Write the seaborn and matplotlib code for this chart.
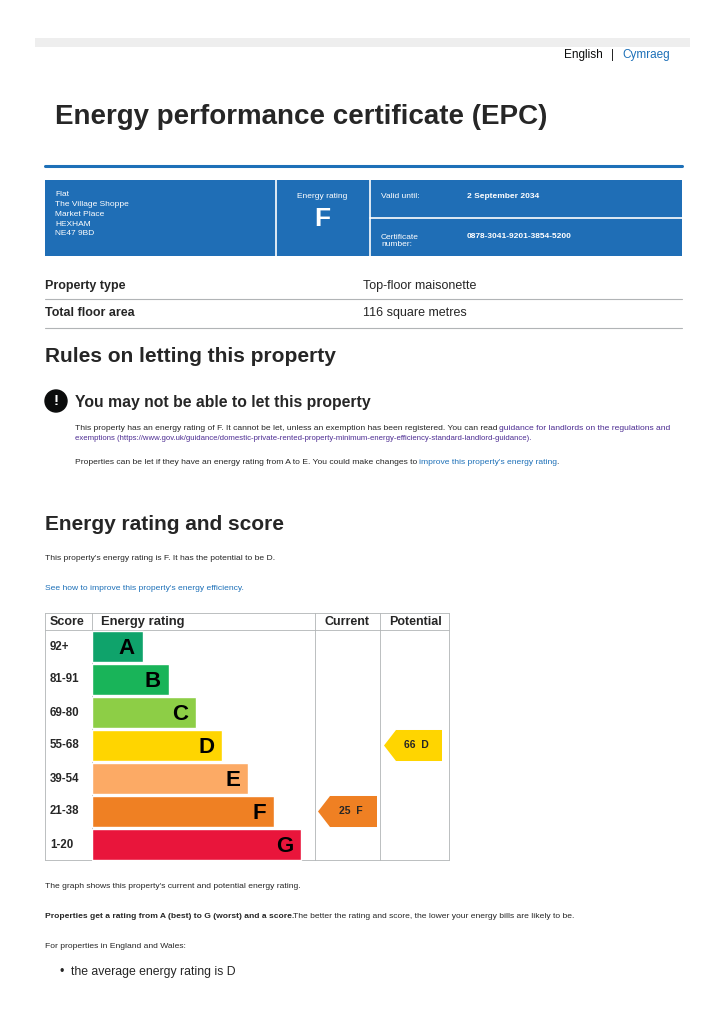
import matplotlib
matplotlib.use("Agg")
import matplotlib.pyplot as plt
import seaborn as sns
import pandas as pd
from matplotlib.patches import Rectangle, Polygon, Circle

sns.set_theme(style="white")
plt.rcParams['font.family'] = ['Liberation Sans', 'DejaVu Sans']

bands = ["A", "B", "C", "D", "E", "F", "G"]
score_ranges = ["92+", "81-91", "69-80", "55-68", "39-54", "21-38", "1-20"]
bar_lengths = [51, 77, 104, 130, 156, 182, 209]
band_colors = ["#0fa36b", "#19b459", "#8dce46", "#ffd500", "#fcaa65", "#ef8023", "#e9153b"]
current_score, current_band = 25, "F"
potential_score, potential_band = 66, "D"

fig = plt.figure(figsize=(7.24, 10.24), dpi=100)
bg = fig.add_axes([0, 0, 1, 1])
bg.set_xlim(0, 724); bg.set_ylim(1024, 0); bg.axis("off")

BLUE = "#1d70b8"
def T(x, y, s, size=6, **kw):
    kw.setdefault("va", "center")
    bg.text(x, y, s, fontsize=size, **kw)

bg.add_patch(Rectangle((35, 38), 655, 9, color="#eeeeee", lw=0))
T(603, 55, "English", 8.5, ha="right", color="#0b0c0c")
T(612, 55, "|", 8.5, ha="center")
T(622, 55, "Cymraeg", 8.5, color=BLUE)
T(55, 117, "Energy performance certificate (EPC)", 20, weight="bold")
bg.plot([45, 682], [166, 166], color=BLUE, lw=2.2)

bg.add_patch(Rectangle((45, 180), 637, 76, color="#1f6eb6", lw=0))
bg.plot([276, 276], [180, 256], color="white", lw=1.2)
bg.plot([370, 370], [180, 256], color="white", lw=1.2)
bg.plot([370, 682], [218, 218], color="white", lw=1.2)
for i, s in enumerate(["Flat", "The Village Shoppe", "Market Place", "HEXHAM", "NE47 9BD"]):
    T(55, 195 + i * 9.7, s, 6, color="white")
T(322, 196, "Energy rating", 6, ha="center", color="white")
T(322, 219, "F", 19, ha="center", color="white", weight="bold")
T(381, 197, "Valid until:", 6, color="white")
T(467, 197, "2 September 2034", 6, color="white", weight="bold")
T(381, 241, "Certificate\nnumber:", 6, color="white", linespacing=1.1)
T(467, 236, "0878-3041-9201-3854-5200", 6, color="white", weight="bold")

T(45, 286, "Property type", 9, weight="bold")
T(363, 286, "Top-floor maisonette", 9)
bg.plot([45, 682], [299, 299], color="#b1b4b6", lw=0.8)
T(45, 313, "Total floor area", 9, weight="bold")
T(363, 313, "116 square metres", 9)
bg.plot([45, 682], [328, 328], color="#b1b4b6", lw=0.8)

T(45, 356, "Rules on letting this property", 15, weight="bold")
bg.add_patch(Circle((56, 401), 11, color="#0b0c0c"))
T(56, 401, "!", 11, ha="center", color="white", weight="bold")
T(75, 403, "You may not be able to let this property", 11.3, weight="bold")
T(75, 429, "This property has an energy rating of F. It cannot be let, unless an exemption has been registered. You can read", 6.1)
T(499, 429, "guidance for landlords on the regulations and", 6.1, color="#4c2c92")
T(75, 438, "exemptions (https://www.gov.uk/guidance/domestic-private-rented-property-minimum-energy-efficiency-standard-landlord-guidance).", 5.6, color="#4c2c92")
T(75, 462, "Properties can be let if they have an energy rating from A to E. You could make changes to", 6.1)
T(419, 462, "improve this property's energy rating", 6.1, color=BLUE)
T(556, 462, ".", 6.1)

T(45, 524, "Energy rating and score", 15, weight="bold")
T(45, 559, "This property's energy rating is F. It has the potential to be D.", 6.1)
T(45, 588, "See how to improve this property's energy efficiency.", 6.1, color=BLUE)

GR = "#b1b4b6"
for x in [45, 92, 315, 380, 449]:
    bg.plot([x, x], [613, 860], color=GR, lw=0.6)
for y in [613, 630, 860]:
    bg.plot([45, 449], [y, y], color=GR, lw=0.6)
T(50, 622, "Score", 9, weight="bold")
T(101, 622, "Energy rating", 9.4, weight="bold")
T(347, 622, "Current", 9, weight="bold", ha="center")
T(416, 622, "Potential", 9, weight="bold", ha="center")
for i, s in enumerate(score_ranges):
    T(50, 630 + 33 * (i + 0.5), s, 8.3, weight="bold")

T(45, 887, "The graph shows this property's current and potential energy rating.", 6.1)
T(45, 917, "Properties get a rating from A (best) to G (worst) and a score.", 6.1, weight="bold")
T(293, 917, "The better the rating and score, the lower your energy bills are likely to be.", 6.1)
T(45, 947, "For properties in England and Wales:", 6.1)
T(60, 972, "\u2022", 9)
T(71, 972, "the average energy rating is D", 8.8)

ax = fig.add_axes([92 / 724, 1 - 861 / 1024, 357 / 724, 231 / 1024])
ax.patch.set_alpha(0)
df = pd.DataFrame({"band": bands, "length": bar_lengths})
sns.barplot(data=df, x="length", y="band", hue="band", palette=band_colors,
            width=0.93, legend=False, ax=ax, saturation=1)
ax.set_xlim(0, 357); ax.set_ylim(6.5, -0.5)
ax.axis("off")
for i, (b, L) in enumerate(zip(bands, bar_lengths)):
    ax.text(L - 8, i + 0.05, b, fontsize=16, weight="bold", ha="right", va="center",
            color="black")

def arrow(x0, x1, row, color, label):
    h = 0.47
    ax.add_patch(Polygon([(x0, row), (x0 + 12, row - h), (x1, row - h), (x1, row + h), (x0 + 12, row + h)],
                         color=color, lw=0))
    ax.text((x0 + x1) / 2 + 3, row, label, fontsize=7.5, weight="bold", ha="center", va="center")

cr = bands.index(current_band)
pr = bands.index(potential_band)
arrow(318 - 92, 377 - 92, cr, band_colors[cr], f"{current_score}  {current_band}")
arrow(384 - 92, 442 - 92, pr, band_colors[pr], f"{potential_score}  {potential_band}")

fig.savefig("out.png", dpi=100)
